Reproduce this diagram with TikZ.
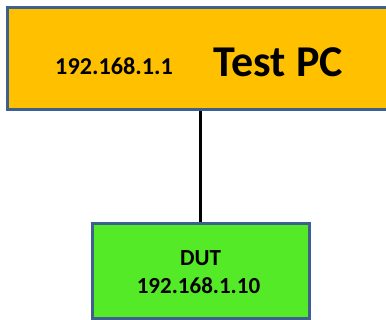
\documentclass[tikz,border=0pt]{standalone}
\usepackage{fontspec}
\setmainfont{Carlito}
\usetikzlibrary{positioning}

\definecolor{pcfill}{RGB}{255,192,0}
\definecolor{dutfill}{RGB}{84,234,40}
\definecolor{boxline}{RGB}{62,96,142}

\def\ipFont{\fontsize{23}{28}\selectfont\bfseries}

\begin{document}
\begin{tikzpicture}[x=1pt, y=-1pt, line cap=round, line width=3pt]
		\useasboundingbox (0,0) rectangle (386,320);
		\tikzset{
			hostbox/.style={draw=boxline, rectangle, inner sep=0pt},
			hosttext/.style={inner sep=0pt, anchor=base, font=\ipFont}
		}
		
		% test pc (runs past the right edge)
		\node[hostbox, fill=pcfill, minimum width=387.5pt, minimum height=102.5pt] (testpc) at (201.25,58.75) {};
		\node[hosttext, font=\fontsize{24.2}{29}\selectfont\bfseries] (pcip) at (114,74.3) {192.168.1.1};
		\node[hosttext, font=\fontsize{44}{52}\selectfont\bfseries] (pcname) at (278.3,76.7) {Test PC};
		
		% device under test
		\node[hostbox, fill=dutfill, minimum width=217.5pt, minimum height=95.5pt] (dut) at (200.75,271.25) {};
		\node[hosttext] (dutname) at (200.5,266) {DUT};
		\node[hosttext] (dutip) at (198.5,294) {192.168.1.10};
		
		% link
		\draw[black, line width=2.7pt, line cap=butt] (dut.north |- testpc.south) -- (dut.north);
\end{tikzpicture}
\end{document}
